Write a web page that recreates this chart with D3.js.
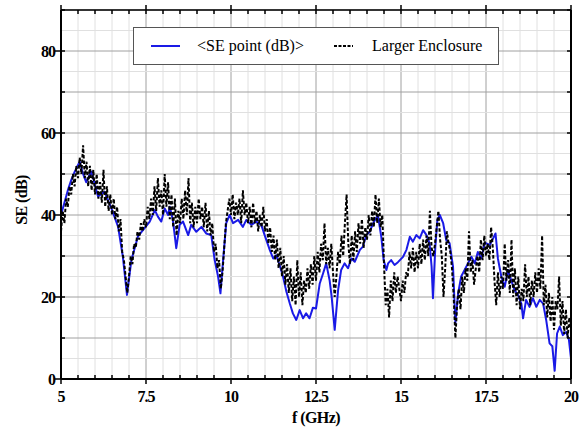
<!DOCTYPE html>
<html><head><meta charset="utf-8">
<script src="https://cdn.jsdelivr.net/npm/d3@7"></script>
<style>body{margin:0;background:#fff}svg{display:block}</style>
</head><body>
<svg id="c" width="588" height="429"></svg>
<script>
// ---- data ----
const seriesNames = ["<SE point (dB)>", "Larger Enclosure"];
const xTicks = [5, 7.5, 10, 12.5, 15, 17.5, 20];
const xTickLabels = ["5", "7.5", "10", "12.5", "15", "17.5", "20"];
const yTicks = [0, 20, 40, 60, 80];
const yTickLabels = ["0", "20", "40", "60", "80"];

const blueF = [5.00,5.10,5.20,5.30,5.40,5.55,5.65,5.74,5.89,6.09,6.28,6.48,6.68,6.82,6.94,7.07,7.26,7.41,7.61,7.76,7.85,7.95,8.05,8.15,8.20,8.29,8.39,8.49,8.59,8.74,8.83,8.98,9.13,9.27,9.42,9.52,9.62,9.69,9.76,9.86,9.96,10.06,10.21,10.35,10.45,10.60,10.74,10.89,10.99,11.14,11.24,11.33,11.43,11.53,11.63,11.73,11.82,11.92,12.02,12.12,12.21,12.31,12.41,12.50,12.61,12.71,12.80,12.90,12.96,13.05,13.15,13.24,13.34,13.44,13.54,13.64,13.79,13.88,13.98,14.08,14.18,14.32,14.42,14.49,14.57,14.62,14.71,14.81,14.91,15.06,15.16,15.26,15.35,15.45,15.55,15.65,15.75,15.84,15.90,15.94,16.01,16.07,16.14,16.24,16.33,16.43,16.53,16.60,16.68,16.77,16.87,16.97,17.07,17.17,17.26,17.36,17.46,17.51,17.61,17.71,17.78,17.85,17.95,18.05,18.15,18.24,18.34,18.44,18.54,18.59,18.68,18.78,18.88,18.98,19.08,19.18,19.27,19.37,19.45,19.52,19.59,19.67,19.76,19.86,19.94,20.00];
const blueV = [40,43,46,48.5,50.5,53,50,48,50.6,44.5,45.7,41.7,37.1,29.8,20.5,29,34.7,36.3,38.4,41.2,39.6,38.4,41.6,40,42,38.8,31.9,37.6,38.4,35.1,37.6,35.9,37.1,35.5,35.1,29,25,20.9,28.2,38,40,38,38.8,37.1,38.8,37.6,38.4,37.6,35.1,31.5,29.4,30.2,27.8,25,21.3,18.4,16,14.4,16.8,14.8,16,14.8,17.4,17.2,23.3,25.8,28.2,24.1,20.1,12,21.7,26.6,28.2,27,29.4,28.6,31.5,32.3,35.1,35.9,38,40,34.7,29,26.6,28.2,29,27.8,28.5,29.8,31.5,34.7,33.5,35.1,34.3,36.3,35.1,33.1,27.4,19.7,32.3,38.8,40,38,33.9,33.1,27.4,13.6,20.9,25,26.6,28.2,29.8,28.2,31,29.4,33.1,33.1,32.7,34.3,35.5,29.4,25,22.5,26.6,24.1,21.7,20.5,18.4,14.8,19.3,17.6,19.7,17.6,19.3,18.4,14.4,8.7,8,2,11.1,12.8,10.7,11.5,9.5,5];

// Larger Enclosure, sampled every 0.05 GHz from 5.00 to 20.00
const blackStart = 5, blackStep = 0.05;
const blackV = [
36,41,38,44,42,47,45,50,47,52,
49,54,50,57,49,53,47,52,46,51,
45,50,44,48,43,51,42,47,41,45,
40,44,39,42,36,39,31,29,25,21,
25,30,28,33,32,36,34,38,36,39,
37,42,39,44,40,47,41,49,42,46,
40,50,42,48,39,45,37,44,35,41,
38,44,39,46,40,49,38,43,37,42,
38,44,39,42,37,43,36,41,35,38,
31,33,27,29,22,26,32,38,41,44,
40,45,39,43,40,44,38,46,40,43,
38,42,37,43,38,41,36,40,37,42,
36,39,33,37,31,35,29,34,27,32,
25,30,23,28,21,27,19,25,18,29,
20,26,18,24,21,27,22,28,23,30,
24,31,26,33,29,38,28,32,27,33,
26,20,25,31,28,35,30,38,45,33,
28,35,29,36,31,38,33,39,32,37,
34,40,35,41,37,45,38,44,37,40,
28,18,22,15,24,19,26,21,25,22,
19,24,21,26,25,31,27,32,26,31,
27,33,28,34,29,35,30,41,32,30,
33,37,41,34,30,20,27,36,33,31,
27,20,10,18,22,17,25,21,27,24,
36,26,29,23,27,30,26,34,29,35,
30,33,29,37,32,24,18,26,20,25,
22,33,24,29,21,34,20,27,18,25,
17,22,19,28,20,25,18,24,20,26,
21,27,22,35,18,23,15,21,14,20,
12,19,17,25,13,19,11,17,10,15,
12];

// ---- chart ----
const svg = d3.select("#c");
const L = 61, R = 571, T = 10, B = 379;
const x = d3.scaleLinear().domain([5, 20]).range([L, R]);
const y = d3.scaleLinear().domain([0, 90]).range([B, T]);
const serif = "'Liberation Serif','Times New Roman',serif";

// grid
const g = svg.append("g");
const xMinor = d3.range(5, 20.001, 0.5);
const yMinor = d3.range(0, 90.001, 5);
g.selectAll(".vx").data(xMinor).join("line")
  .attr("x1", d => x(d)).attr("x2", d => x(d)).attr("y1", T).attr("y2", B)
  .attr("stroke", d => (Math.abs(d / 2.5 - Math.round(d / 2.5)) < 1e-6) ? "#a0a0a0" : "#e0e0e0")
  .attr("stroke-width", 1);
g.selectAll(".hy").data(yMinor).join("line")
  .attr("x1", L).attr("x2", R).attr("y1", d => y(d)).attr("y2", d => y(d))
  .attr("stroke", d => (d % 10 === 0) ? "#a0a0a0" : "#e0e0e0")
  .attr("stroke-width", 1);

// clip
svg.append("clipPath").attr("id", "clip").append("rect")
  .attr("x", L).attr("y", T).attr("width", R - L).attr("height", B - T);

const blackData = blackV.map((v, i) => [blackStart + i * blackStep, v]);
const blueData = blueF.map((f, i) => [f, blueV[i]]);
const line = d3.line().x(d => x(d[0])).y(d => y(d[1]));

svg.append("path").datum(blueData).attr("clip-path", "url(#clip)")
  .attr("d", line).attr("fill", "none").attr("stroke", "#1a1ae6")
  .attr("stroke-width", 2).attr("stroke-linejoin", "round");
svg.append("path").datum(blackData).attr("clip-path", "url(#clip)")
  .attr("d", line).attr("fill", "none").attr("stroke", "#000")
  .attr("stroke-width", 2).attr("stroke-dasharray", "3.5,2");

// ticks & frame
const frame = svg.append("g");
frame.selectAll(".tb").data(xMinor).join("line")
  .attr("x1", d => x(d)).attr("x2", d => x(d))
  .attr("y1", B).attr("y2", d => xTicks.includes(d) ? B + 5 : B - 4)
  .attr("stroke", "#000").attr("stroke-width", 1.5);
frame.selectAll(".tt").data(xMinor).join("line")
  .attr("x1", d => x(d)).attr("x2", d => x(d))
  .attr("y1", d => xTicks.includes(d) ? T - 5 : T).attr("y2", T + 4)
  .attr("stroke", "#000").attr("stroke-width", 1.5);
const yMinorT = d3.range(0, 90.001, 10);
frame.selectAll(".tl").data(yMinorT).join("line")
  .attr("y1", d => y(d)).attr("y2", d => y(d))
  .attr("x1", d => yTicks.includes(d) ? L - 6 : L).attr("x2", L + 4)
  .attr("stroke", "#000").attr("stroke-width", 1.5);
frame.selectAll(".tr").data(yMinorT).join("line")
  .attr("y1", d => y(d)).attr("y2", d => y(d))
  .attr("x1", R - 4).attr("x2", R)
  .attr("stroke", "#000").attr("stroke-width", 1.5);

frame.append("line").attr("x1", L).attr("x2", R).attr("y1", B).attr("y2", B).attr("stroke", "#000").attr("stroke-width", 2);
frame.append("line").attr("x1", L).attr("x2", L).attr("y1", T).attr("y2", B).attr("stroke", "#000").attr("stroke-width", 2);
frame.append("line").attr("x1", L).attr("x2", R).attr("y1", T).attr("y2", T).attr("stroke", "#000").attr("stroke-width", 1.5);
frame.append("line").attr("x1", R).attr("x2", R).attr("y1", T).attr("y2", B).attr("stroke", "#000").attr("stroke-width", 2);

// tick labels
svg.selectAll(".xl").data(xTicks).join("text")
  .attr("x", d => x(d)).attr("y", 402).attr("text-anchor", "middle")
  .attr("font-family", serif).attr("font-weight", "bold").attr("font-size", 16)
  .attr("letter-spacing", "-1px")
  .text((d, i) => xTickLabels[i]);
svg.selectAll(".yl").data(yTicks).join("text")
  .attr("x", 55).attr("y", d => y(d) + 5.5).attr("text-anchor", "end")
  .attr("font-family", serif).attr("font-weight", "bold").attr("font-size", 16)
  .attr("letter-spacing", "-1px")
  .text((d, i) => yTickLabels[i]);

// axis titles
svg.append("text").attr("x", 316).attr("y", 423).attr("text-anchor", "middle")
  .attr("font-family", serif).attr("font-weight", "bold").attr("font-size", 16)
  .attr("letter-spacing", "-0.6px").text("f (GHz)");
svg.append("text").attr("transform", "translate(27,200) rotate(-90)").attr("text-anchor", "middle")
  .attr("font-family", serif).attr("font-weight", "bold").attr("font-size", 16)
  .attr("letter-spacing", "-0.6px").text("SE (dB)");

// legend
const lg = svg.append("g");
lg.append("rect").attr("x", 133.5).attr("y", 27.5).attr("width", 365).attr("height", 37)
  .attr("fill", "#fff").attr("stroke", "#555").attr("stroke-width", 1);
lg.append("line").attr("x1", 151).attr("x2", 180).attr("y1", 46).attr("y2", 46)
  .attr("stroke", "#1a1ae6").attr("stroke-width", 2);
lg.append("text").attr("x", 197).attr("y", 51).attr("font-family", serif).attr("font-size", 16)
  .text(seriesNames[0]);
lg.append("line").attr("x1", 334).attr("x2", 353).attr("y1", 46).attr("y2", 46)
  .attr("stroke", "#000").attr("stroke-width", 2).attr("stroke-dasharray", "3,1.5");
lg.append("text").attr("x", 372).attr("y", 51).attr("font-family", serif).attr("font-size", 16)
  .text(seriesNames[1]);
</script>
</body></html>
